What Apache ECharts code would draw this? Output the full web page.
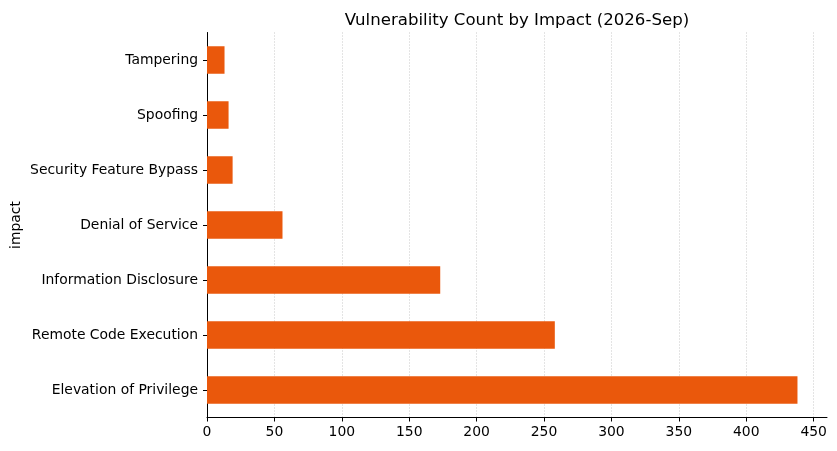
<!DOCTYPE html>
<html>
<head>
<meta charset="utf-8">
<script src="https://cdn.jsdelivr.net/npm/echarts@6/dist/echarts.min.js"></script>
<style>
  html, body { margin: 0; padding: 0; background: #fff; }
  #main { width: 837px; height: 451px; }
</style>
</head>
<body>
<div id="main"></div>
<script>
const impacts = ['Elevation of Privilege', 'Remote Code Execution', 'Information Disclosure',
  'Denial of Service', 'Security Feature Bypass', 'Spoofing', 'Tampering']
const counts = [438, 258, 173, 56, 19, 16, 13]
const xTicks = [0, 50, 100, 150, 200, 250, 300, 350, 400, 450]

const font = 'DejaVu Sans'
const chart = echarts.init(document.querySelector('#main'))

chart.setOption({
  animation: false,
  textStyle: { fontFamily: font },
  title: {
    text: 'Vulnerability Count by Impact (2026-Sep)',
    left: 512, top: 7, textAlign: 'center',
    textStyle: { fontFamily: font, fontSize: 16.6, fontWeight: 'normal', color: '#000' }
  },
  grid: { left: 207, right: 10, top: 32.5, bottom: 33.5, containLabel: false, outerBoundsMode: 'none' },
  xAxis: {
    type: 'value',
    min: 0,
    max: Math.max(...counts) * 1.05,
    interval: 50,
    axisLine: { show: true, lineStyle: { color: '#000', width: 1 } },
    axisTick: { show: true, customValues: xTicks, length: 4, lineStyle: { color: '#000' } },
    axisLabel: { customValues: xTicks, color: '#000', fontSize: 13.9, margin: 8 },
    splitLine: { show: true, lineStyle: { color: '#c8c8c8', type: [1, 2], width: 1 } }
  },
  yAxis: {
    type: 'category',
    data: impacts,
    name: 'impact',
    nameLocation: 'middle',
    nameGap: 184,
    nameRotate: 90,
    nameMoveOverlap: false,
    nameTextStyle: { fontSize: 13.9, color: '#000' },
    axisLine: { show: true, lineStyle: { color: '#000', width: 1 } },
    axisTick: { show: true, alignWithLabel: true, length: 4, lineStyle: { color: '#000' } },
    axisLabel: { color: '#000', fontSize: 13.9, margin: 9 },
    splitLine: { show: false }
  },
  series: [{
    type: 'bar',
    data: counts,
    barWidth: '50%',
    itemStyle: { color: '#EA580C' }
  }]
})
</script>
</body>
</html>
